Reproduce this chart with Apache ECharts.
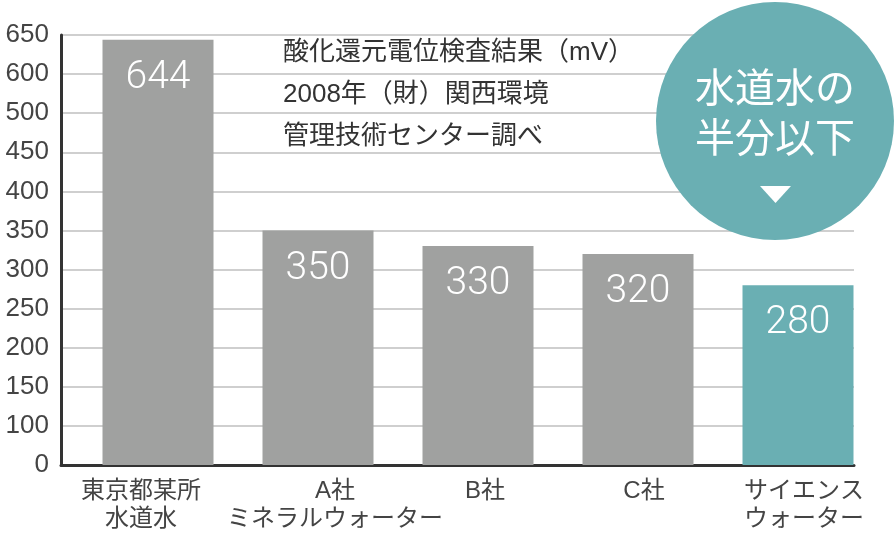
<!DOCTYPE html>
<html><head><meta charset="utf-8">
<script src="https://cdn.jsdelivr.net/npm/echarts@6/dist/echarts.min.js"></script>
<style>html,body{margin:0;padding:0;background:#fff}#c{width:894px;height:538px}</style>
</head><body><div id="c"></div>
<script>
// ---- data ----
const categories = ['東京都某所\n水道水', 'A社\nミネラルウォーター', 'B社', 'C社', 'サイエンス\nウォーター'];
const values = [644, 350, 330, 320, 280];
const yTickLabels = [0, 100, 150, 200, 250, 300, 350, 400, 450, 500, 600, 650];
const noteLines = ['酸化還元電位検査結果（mV）', '2008年（財）関西環境', '管理技術センター調べ'];
const badgeLines = ['水道水の', '半分以下'];

// ---- styling ----
const labelShift = [-17, 17, 7, 6, 6];
const GRAY = '#a0a1a0', TEAL = '#6aafb3';
const STEP = 50;
const FONT = "'Liberation Sans','Noto Sans CJK JP',sans-serif";

// the printed axis uses evenly spaced ticks carrying the labels above
function toAxis(v) {
  for (let i = 0; i < yTickLabels.length - 1; i++) {
    const a = yTickLabels[i], b = yTickLabels[i + 1];
    if (v >= a && v <= b) return (i + (v - a) / (b - a)) * STEP;
  }
  return (yTickLabels.length - 1) * STEP;
}
const yMax = (yTickLabels.length - 1) * STEP;

const chart = echarts.init(document.getElementById('c'));
const gTop = 35, gBottom = 73;
chart.setOption({
  animation: false,
  grid: [
    { left: 61, right: 40, top: gTop, bottom: gBottom },
    { left: 78, right: 16, top: gTop, bottom: gBottom }
  ],
  xAxis: [
    { gridIndex: 0, type: 'value', min: 0, max: 1, axisLabel: { show: false }, axisTick: { show: false }, splitLine: { show: false },
      axisLine: { show: true, lineStyle: { color: '#333', width: 3 } } },
    { gridIndex: 1, type: 'category',
      data: categories.map((c, i) => ({ value: c, textStyle: { padding: labelShift[i] >= 0 ? [0, 0, 0, 2 * labelShift[i]] : [0, -2 * labelShift[i], 0, 0] } })),
      axisLine: { show: false }, axisTick: { show: false },
      axisLabel: { color: '#444', fontSize: 24, lineHeight: 28, margin: 12, fontFamily: FONT, interval: 0 } }
  ],
  yAxis: [
    { gridIndex: 0, type: 'value', min: 0, max: yMax, interval: STEP,
      axisLine: { show: true, lineStyle: { color: '#333', width: 3 } }, axisTick: { show: false },
      axisLabel: { color: '#444', fontSize: 26, margin: 12, fontFamily: FONT,
        formatter: v => String(yTickLabels[Math.round(v / STEP)]) },
      splitLine: { show: true, lineStyle: { color: '#cfcfcf', width: 2 } } },
    { gridIndex: 1, type: 'value', min: 0, max: yMax, show: false, splitLine: { show: false } }
  ],
  series: [{
    type: 'bar', xAxisIndex: 1, yAxisIndex: 1,
    barWidth: 111,
    data: values.map((v, i) => ({ value: toAxis(v),
      itemStyle: { color: i === values.length - 1 ? TEAL : GRAY } })),
    label: { show: true, position: 'insideTop', distance: 19, color: '#fff', fontSize: 39,
      fontFamily: "Roboto,'Liberation Sans',sans-serif", fontWeight: 300,
      formatter: p => String(values[p.dataIndex]) }
  }],
  graphic: [
    { type: 'text', left: 283, top: 32, z: 100, style: { text: noteLines.join('\n'), lineHeight: 42, fill: '#333', font: "26px " + FONT } },
    { type: 'circle', z: 100, shape: { cx: 775, cy: 121, r: 119 }, style: { fill: TEAL } },
    { type: 'text', z: 101, x: 775, y: 116, style: { text: badgeLines.join('\n'), fill: '#fff', font: "40px " + FONT, lineHeight: 50, align: 'center', verticalAlign: 'middle' } },
    { type: 'polygon', z: 101, shape: { points: [[760, 186], [791, 186], [775.5, 203]] }, style: { fill: '#fff' } }
  ]
});
</script></body></html>
